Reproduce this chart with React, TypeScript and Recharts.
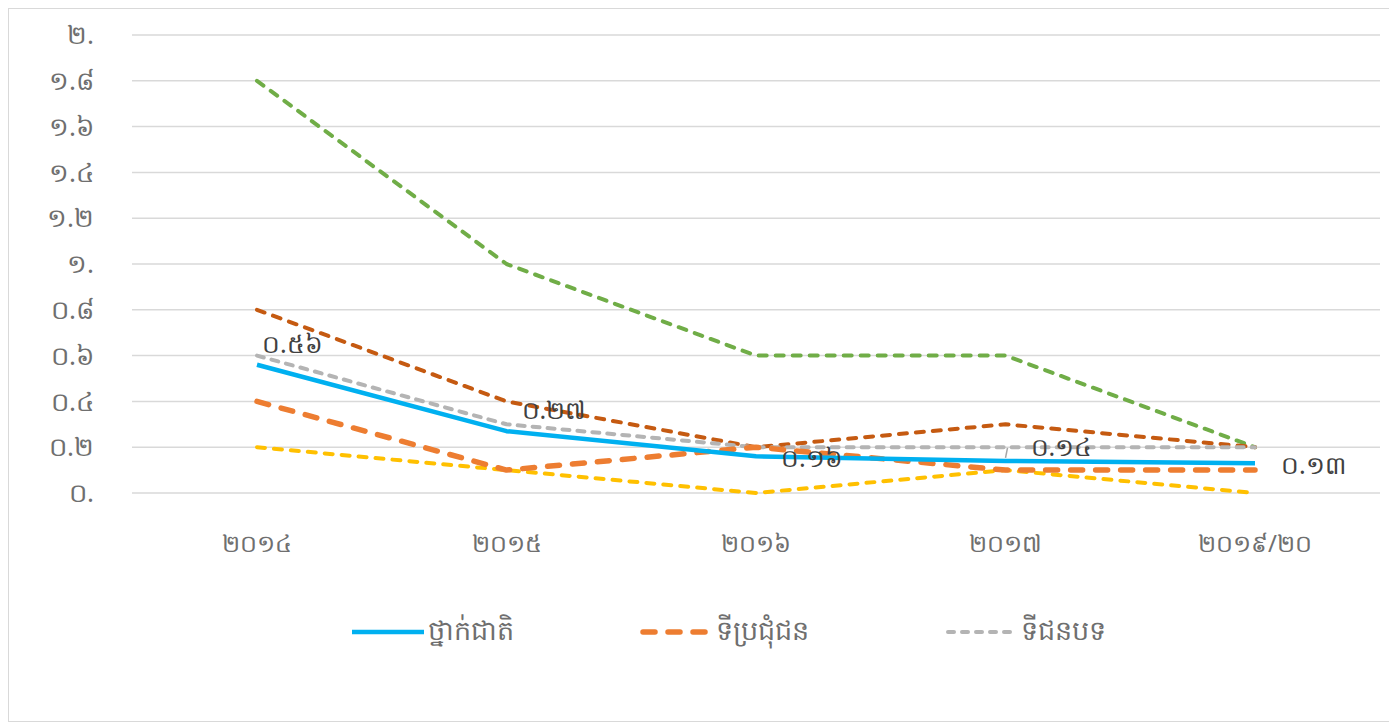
import React from 'react';
import { LineChart, Line, XAxis, YAxis, CartesianGrid, Legend, LabelList } from 'recharts';

const categories = ['២០១៤', '២០១៥', '២០១៦', '២០១៧', '២០១៩/២០'];
const national = [0.56, 0.27, 0.16, 0.14, 0.13];
const urban = [0.4, 0.1, 0.2, 0.1, 0.1];
const rural = [0.6, 0.3, 0.2, 0.2, 0.2];
const seriesD = [0.8, 0.4, 0.2, 0.3, 0.2];
const seriesE = [1.8, 1.0, 0.6, 0.6, 0.2];
const seriesF = [0.2, 0.1, 0.0, 0.1, 0.0];
const yTicks = [0, 0.2, 0.4, 0.6, 0.8, 1.0, 1.2, 1.4, 1.6, 1.8, 2.0];

const data = categories.map((c, i) => ({
  cat: c,
  national: national[i],
  urban: urban[i],
  rural: rural[i],
  d: seriesD[i],
  e: seriesE[i],
  f: seriesF[i],
}));

const KH = ['០', '១', '២', '៣', '៤', '៥', '៦', '៧', '៨', '៩'];
const toKh = (s: string) => s.replace(/[0-9]/g, (d) => KH[Number(d)]);
const fmtTick = (v: number) => {
  if (Math.abs(v - Math.round(v)) < 1e-9) return toKh(`${Math.round(v)}.`);
  return toKh(v.toFixed(1));
};

const FONT = "'Noto Sans', 'DejaVu Sans', sans-serif";
const TXT = '#6f6f6f';

// label offsets (dx from point, dy of text centre from point)
const labelOffsets = [
  { dx: 5, dy: -22 },
  { dx: 15, dy: -22 },
  { dx: 25, dy: 1 },
  { dx: 25, dy: -15 },
  { dx: 26, dy: 1 },
];

const NationalLabel = (props: any) => {
  const { x, y, value, index } = props;
  const o = labelOffsets[index] || { dx: 5, dy: -20 };
  return (
    <g>
      {index === 3 ? (
        <line x1={x} y1={y - 3} x2={x + 2} y2={y - 13} stroke="#a6a6a6" strokeWidth={1.5} />
      ) : null}
      <text
        x={x + o.dx}
        y={y + o.dy}
        dominantBaseline="central"
        fontSize={25}
        fontFamily={FONT}
        fill="#404040"
      >
        {toKh(Number(value).toFixed(2))}
      </text>
    </g>
  );
};

const legendItems = [
  { name: 'ថ្នាក់ជាតិ', color: '#00B0F0', dash: undefined as string | undefined, w: 4.5, cap: 'butt', width: 288 },
  { name: 'ទីប្រជុំជន', color: '#ED7D31', dash: '12 13', w: 5.5, cap: 'round', width: 305 },
  { name: 'ទីជនបទ', color: '#B4B4B4', dash: '6 8', w: 4, cap: 'round', width: 200 },
];

const CustomLegend = () => (
  <div style={{ display: 'flex', alignItems: 'center', fontFamily: FONT }}>
    {legendItems.map((it, i) => (
      <div key={i} style={{ display: 'flex', alignItems: 'center', width: it.width }}>
        <svg width={72} height={12} style={{ marginRight: 4 }}>
          <line
            x1={it.cap === 'round' ? 3 : 0}
            y1={6}
            x2={72}
            y2={6}
            stroke={it.color}
            strokeWidth={it.w}
            strokeDasharray={it.dash}
            strokeLinecap={it.cap as any}
          />
        </svg>
        <span style={{ fontSize: 27, color: TXT, whiteSpace: 'nowrap' }}>{it.name}</span>
      </div>
    ))}
  </div>
);

const common = {
  type: 'linear' as const,
  dot: false,
  isAnimationActive: false,
  strokeLinejoin: 'round' as const,
};

export default function App() {
  return (
    <div
      style={{
        width: 1381,
        height: 712,
        border: '1px solid #d9d9d9',
        background: '#fff',
        position: 'relative',
      }}
    >
      <LineChart width={1381} height={712} data={data} margin={{ top: 26, right: 10, left: 0, bottom: 0 }}>
        <CartesianGrid vertical={false} stroke="#d9d9d9" strokeWidth={1.5} />
        <XAxis
          dataKey="cat"
          axisLine={false}
          tickLine={false}
          height={228}
          padding={{ left: 125, right: 125 }}
          tickMargin={36}
          tick={{ fontSize: 24, fill: TXT, fontFamily: FONT }}
        />
        <YAxis
          domain={[0, 2]}
          ticks={yTicks}
          width={123}
          axisLine={false}
          tickLine={false}
          tickMargin={32}
          tickFormatter={fmtTick}
          tick={{ fontSize: 26, fill: TXT, fontFamily: FONT }}
        />
        <Legend
          layout="horizontal"
          verticalAlign="middle"
          align="center"
          content={() => <CustomLegend />}
          wrapperStyle={{ top: 602, left: 343, width: 'auto', height: 'auto' }}
        />
        <Line {...common} dataKey="f" name="f" stroke="#FFC000" strokeWidth={4} strokeDasharray="8 9" strokeLinecap="round" legendType="none" />
        <Line {...common} dataKey="e" name="e" stroke="#70AD47" strokeWidth={4} strokeDasharray="8 9" strokeLinecap="round" legendType="none" />
        <Line {...common} dataKey="d" name="d" stroke="#C55A11" strokeWidth={4} strokeDasharray="8 9" strokeLinecap="round" legendType="none" />
        <Line {...common} dataKey="rural" name="ទីជនបទ" stroke="#B4B4B4" strokeWidth={4} strokeDasharray="7 8" strokeLinecap="round" />
        <Line {...common} dataKey="urban" name="ទីប្រជុំជន" stroke="#ED7D31" strokeWidth={5.5} strokeDasharray="12 13" strokeLinecap="round" />
        <Line {...common} dataKey="national" name="ថ្នាក់ជាតិ" stroke="#00B0F0" strokeWidth={4.5}>
          <LabelList dataKey="national" content={NationalLabel} />
        </Line>
      </LineChart>
    </div>
  );
}
